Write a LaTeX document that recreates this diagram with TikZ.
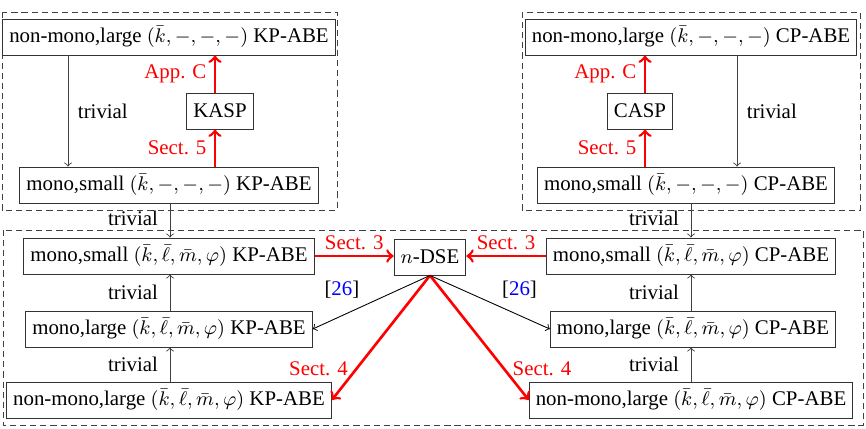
\documentclass[tikz,border=0pt]{standalone}
\usepackage{fontspec}
\setmainfont{Liberation Serif}
\usetikzlibrary{positioning}
\begin{document}
\begin{tikzpicture}[x=0.016cm,y=-0.016cm,
    every node/.style={font=\fontsize{9.5}{11}\selectfont},
    scheme/.style={draw=black!80, inner sep=3pt, minimum height=16.4pt},
    triv/.style={->, draw=black!75},
    cite/.style={->, black},
    proof/.style={->, red, line width=1.2pt},
    group/.style={draw=black!75, dash pattern=on 2.8pt off 1.8pt},
    redlbl/.style={text=red}]
    \useasboundingbox (0,0) rectangle (866,428);

    % Draw the dashed groups
    \draw[group] (2,12) rectangle (337,210);
    \draw[group] (522,12) rectangle (860,210);
    \draw[group] (3,230) rectangle (863,425);

    % Small universe, KP side
    \node[scheme] (kplarge) at (169,37) {non-mono,large $(\bar{k},-,-,-)$ KP-ABE};
    \node[scheme] (kasp) at (220,111) {KASP};
    \node[scheme] (kpsmall) at (169,185) {mono,small $(\bar{k},-,-,-)$ KP-ABE};

    % Small universe, CP side
    \node[scheme] (cplarge) at (691,37) {non-mono,large $(\bar{k},-,-,-)$ CP-ABE};
    \node[scheme] (casp) at (640,111) {CASP};
    \node[scheme] (cpsmall) at (686,185) {mono,small $(\bar{k},-,-,-)$ CP-ABE};

    % Full parameters
    \node[scheme] (kpmonosmall) at (169,256) {mono,small $(\bar{k},\bar{\ell},\bar{m},\varphi)$ KP-ABE};
    \node[scheme] (kpmonolarge) at (169,329) {mono,large $(\bar{k},\bar{\ell},\bar{m},\varphi)$ KP-ABE};
    \node[scheme] (kpnonmono) at (169,400) {non-mono,large $(\bar{k},\bar{\ell},\bar{m},\varphi)$ KP-ABE};
    \node[scheme] (dse) at (430,257) {$n$-DSE};
    \node[scheme] (cpmonosmall) at (691,256) {mono,small $(\bar{k},\bar{\ell},\bar{m},\varphi)$ CP-ABE};
    \node[scheme] (cpmonolarge) at (693,329) {mono,large $(\bar{k},\bar{\ell},\bar{m},\varphi)$ CP-ABE};
    \node[scheme] (cpnonmono) at (691,400) {non-mono,large $(\bar{k},\bar{\ell},\bar{m},\varphi)$ CP-ABE};

    % Trivial implications
    \draw[triv] (68,0 |- kplarge.south) -- node[right=1pt] {trivial} (68,0 |- kpsmall.north);
    \draw[triv] (737,0 |- cplarge.south) -- node[right=1pt] {trivial} (737,0 |- cpsmall.north);
    \draw[triv] (170,0 |- kpsmall.south) -- node[left=2pt, pos=0.45] {trivial} (170,0 |- kpmonosmall.north);
    \draw[triv] (691,0 |- cpsmall.south) -- node[left=2pt, pos=0.45] {trivial} (691,0 |- cpmonosmall.north);
    \draw[triv] (170,0 |- kpmonolarge.north) -- node[left=2pt] {trivial} (170,0 |- kpmonosmall.south);
    \draw[triv] (170,0 |- kpnonmono.north) -- node[left=2pt] {trivial} (170,0 |- kpmonolarge.south);
    \draw[triv] (691,0 |- cpmonolarge.north) -- node[left=2pt] {trivial} (691,0 |- cpmonosmall.south);
    \draw[triv] (691,0 |- cpnonmono.north) -- node[left=2pt] {trivial} (691,0 |- cpmonolarge.south);

    % Our conversions
    \draw[proof] (215,0 |- kpsmall.north) -- node[left, redlbl] {Sect. 5} (215,0 |- kasp.south);
    \draw[proof] (215,0 |- kasp.north) -- node[left, redlbl] {App. C} (215,0 |- kplarge.south);
    \draw[proof] (645,0 |- cpsmall.north) -- node[left, redlbl] {Sect. 5} (645,0 |- casp.south);
    \draw[proof] (645,0 |- casp.north) -- node[left, redlbl] {App. C} (645,0 |- cplarge.south);
    \draw[proof] (kpmonosmall.east) -- node[above=-1pt, redlbl] {Sect. 3} (kpmonosmall.east -| dse.west);
    \draw[proof] (cpmonosmall.west) -- node[above=-1pt, redlbl] {Sect. 3} (cpmonosmall.west -| dse.east);
    \draw[proof] (dse.south) -- node[pos=0.75, left, redlbl] {Sect. 4} (kpnonmono.east);
    \draw[proof] (dse.south) -- node[pos=0.75, right, redlbl] {Sect. 4} (cpnonmono.west);

    % Known results
    \draw[cite] (dse.south) -- node[pos=0.55, above left=-1pt] {[{\color{blue}26}]} (kpmonolarge.east);
    \draw[cite] (dse.south) -- node[pos=0.55, above right=-1pt] {[{\color{blue}26}]} (cpmonolarge.west);
\end{tikzpicture}
\end{document}
